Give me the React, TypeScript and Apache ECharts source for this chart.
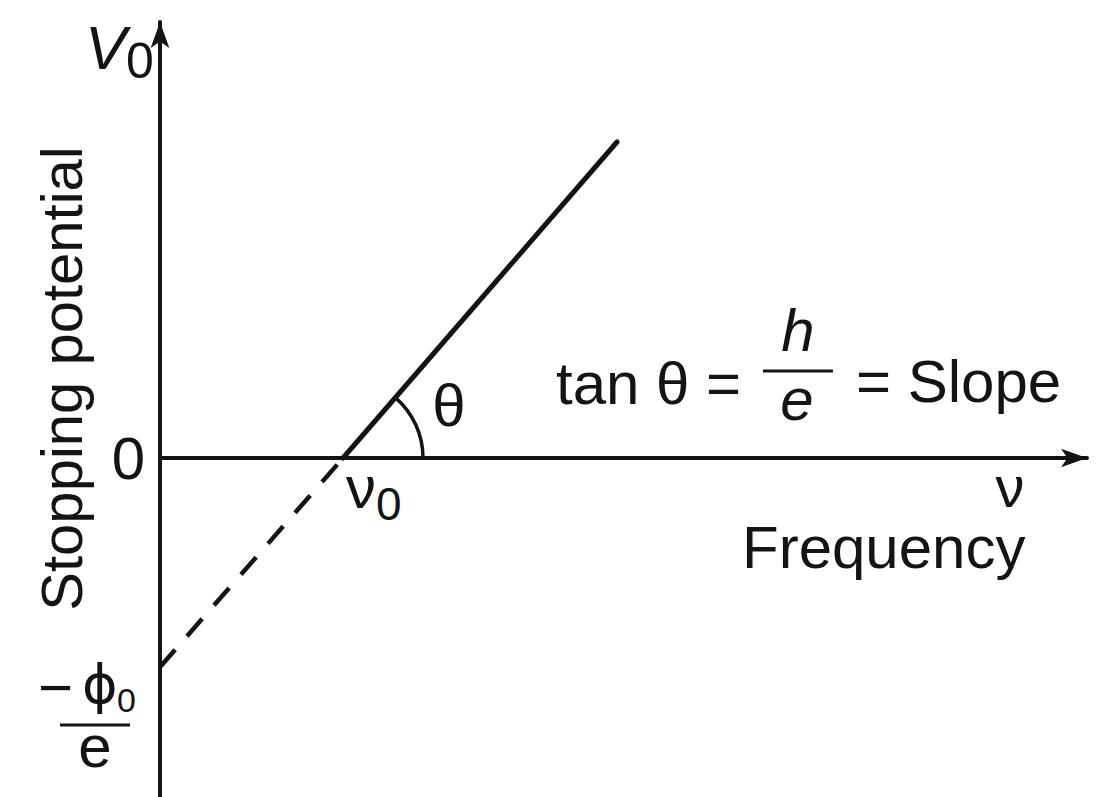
import React, { useEffect, useRef } from "react";
import * as echarts from "echarts";

// Axis extents (arbitrary units: frequency on x, stopping potential on y)
const xRange = [0, 9.27];
const yRange = [-3.39, 4.36];

// Key values
const thresholdFrequency = 1.83; // ν0, where the line crosses V0 = 0
const workFunctionIntercept = -2.09; // −φ0/e, intercept on the V0 axis
const lineEnd = [4.57, 3.16]; // upper end of the drawn solid line

// Series
const solidLine = [[thresholdFrequency, 0], lineEnd];
const dashedLine = [[0, workFunctionIntercept], [thresholdFrequency, 0]];
const yLabelValues = [0];
const yLabelTexts = ["0"];

const INK = "#141414";
const FONT = '"Liberation Sans", Arial, Helvetica, "DejaVu Sans", sans-serif';

function txt(
  text: string,
  x: number,
  y: number,
  size: number,
  opts: { align?: string; italic?: boolean; lh?: number; family?: string } = {}
) {
  return {
    type: "text",
    x,
    y,
    silent: true,
    style: {
      text,
      fontSize: size,
      lineHeight: opts.lh || size,
      fontFamily: opts.family || FONT,
      fontStyle: opts.italic ? "italic" : "normal",
      fill: INK,
      align: opts.align || "left",
      verticalAlign: "middle",
    },
  };
}

export default function App() {
  const ref = useRef<HTMLDivElement>(null);

  useEffect(() => {
    const el = ref.current;
    if (!el) return;
    const chart = echarts.init(el, null, { renderer: "svg" });

    const option: any = {
      animation: false,
      backgroundColor: "#ffffff",
      grid: { left: 160, right: 10, top: 22, bottom: 0, containLabel: false },
      xAxis: {
        type: "value",
        min: xRange[0],
        max: xRange[1],
        axisLine: {
          show: true,
          onZero: true,
          symbol: ["none", "arrow"],
          symbolSize: [14, 26],
          lineStyle: { color: INK, width: 4 },
        },
        axisTick: { show: false },
        axisLabel: { show: false },
        splitLine: { show: false },
      },
      yAxis: {
        type: "value",
        min: yRange[0],
        max: yRange[1],
        name: "Stopping potential",
        nameLocation: "middle",
        nameRotate: 90,
        nameGap: 70,
        nameTextStyle: {
          fontSize: 58,
          fontFamily: FONT,
          color: INK,
          padding: [0, 0, 0, 62],
        },
        axisLine: {
          show: true,
          onZero: false,
          symbol: ["none", "arrow"],
          symbolSize: [14, 26],
          lineStyle: { color: INK, width: 4 },
        },
        axisTick: { show: false },
        splitLine: { show: false },
        axisLabel: {
          customValues: yLabelValues,
          formatter: (v: number) => {
            const i = yLabelValues.indexOf(v);
            return i >= 0 ? yLabelTexts[i] : "";
          },
          fontSize: 60,
          fontFamily: FONT,
          color: INK,
          margin: 15,
        },
      },
      series: [
        {
          type: "line",
          data: solidLine,
          symbol: "none",
          silent: true,
          lineStyle: { color: INK, width: 5, cap: "round" },
        },
        {
          type: "line",
          data: dashedLine,
          symbol: "none",
          silent: true,
          lineStyle: { color: INK, width: 4.5, type: [23, 18] },
        },
        {
          type: "custom",
          silent: true,
          data: [[thresholdFrequency, 0]],
          renderItem: (_params: any, api: any) => {
            const c = api.coord([api.value(0), api.value(1)]);
            const e = api.coord(lineEnd);
            const ang = Math.atan2(c[1] - e[1], e[0] - c[0]);
            return {
              type: "arc",
              shape: {
                cx: c[0],
                cy: c[1],
                r: 80,
                startAngle: -ang,
                endAngle: 0,
                clockwise: true,
              },
              style: { stroke: INK, lineWidth: 3.5, fill: "none" },
            };
          },
        },
      ],
    };

    chart.setOption(option);

    const px = (v: number[]) =>
      chart.convertToPixel({ gridIndex: 0 }, v) as unknown as number[];
    const o = px([thresholdFrequency, 0]);
    const ic = px([0, workFunctionIntercept]);

    const graphic: any[] = [
      // V0 axis title
      txt("V", 85, 47, 62, { italic: true }),
      txt("0", 126, 61, 50),
      // −φ0 / e label at the intercept
      txt("\u2212", 38, ic[1] + 20, 60),
      txt("\u03D5", 82, ic[1] + 17, 54, { family: '"DejaVu Sans", "Liberation Sans", sans-serif' }),
      txt("0", 117, ic[1] + 33, 34),
      {
        type: "line",
        silent: true,
        shape: { x1: 60, y1: ic[1] + 58, x2: 130, y2: ic[1] + 58 },
        style: { stroke: INK, lineWidth: 3 },
      },
      txt("e", 95, ic[1] + 79, 60, { align: "center" }),
      // ν0 and θ at the threshold point
      txt("ν", o[0] + 3, o[1] + 29, 60),
      txt("0", o[0] + 33, o[1] + 46, 46),
      txt("θ", o[0] + 106, o[1] - 53, 60, { align: "center" }),
      // slope formula
      txt("tan θ =", 556, 383, 60),
      txt("h", 798, 330, 60, { align: "center", italic: true }),
      {
        type: "line",
        silent: true,
        shape: { x1: 763, y1: 371, x2: 833, y2: 371 },
        style: { stroke: INK, lineWidth: 3 },
      },
      txt("e", 797, 399, 60, { align: "center", italic: true }),
      txt("= Slope", 856, 381, 60),
      // x axis title
      txt("ν", 1010, 486, 58, { align: "center", lh: 52 }),
      txt("Frequency", 742, 547, 60, { lh: 48 }),
    ];

    chart.setOption({ graphic });

    return () => {
      chart.dispose();
    };
  }, []);

  return (
    <div
      ref={ref}
      style={{
        position: "absolute",
        left: 0,
        top: 0,
        width: 1097,
        height: 797,
        background: "#ffffff",
      }}
    />
  );
}
